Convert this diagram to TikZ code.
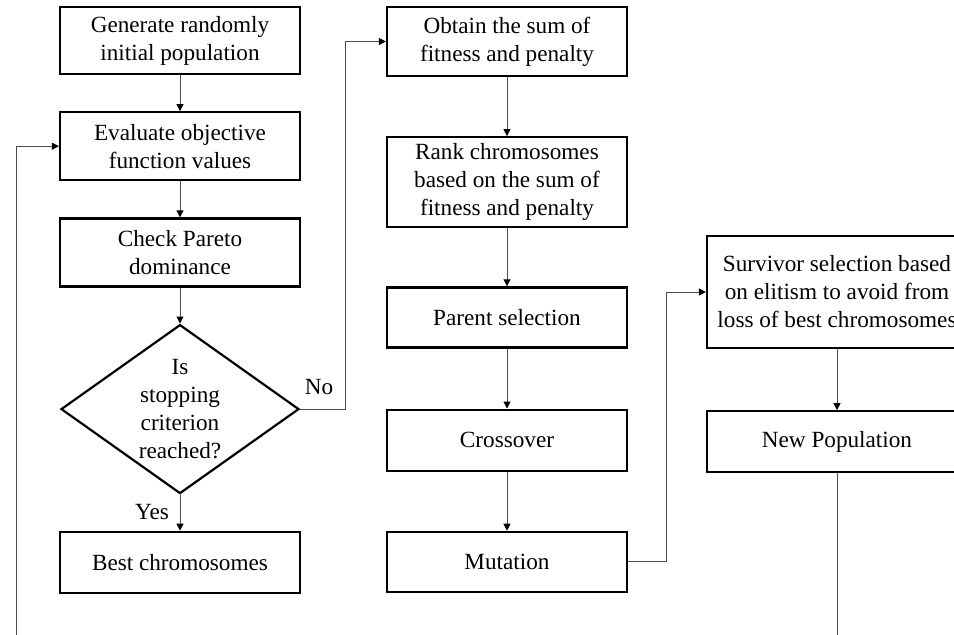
\documentclass[tikz,border=0pt]{standalone}
\usepackage{fontspec}
\setmainfont{Liberation Serif}
\usetikzlibrary{positioning,arrows.meta,shapes.geometric}
\definecolor{edge}{HTML}{4D4D4D}

\begin{document}
\begin{tikzpicture}[x=0.5pt,y=-0.5pt,
  font=\fontsize{11.6}{14}\selectfont,
  box/.style={draw,line width=1.1pt,minimum width=120pt,minimum height=30.5pt,align=center,inner sep=2pt},
  decide/.style={diamond,draw,line width=1.1pt,minimum width=119pt,minimum height=84.5pt,align=center,inner sep=0pt,shape aspect=1.4},
  ar/.style={-{Triangle[length=3.5pt,width=3.5pt,color=black]},line width=0.5pt,color=edge}]
\useasboundingbox (0,0) rectangle (954,634);
\clip (0,0) rectangle (954,634);
% left column
\node[box,minimum height=33.5pt] (gen) at (180,40.5) {Generate randomly\\initial population};
\node[box,minimum height=34pt,below=18pt of gen] (eval) {Evaluate objective\\function values};
\node[box,minimum height=34pt,below=18pt of eval] (pareto) {Check Pareto\\dominance};
\node[decide,below=18pt of pareto] (stop) {Is\\stopping\\criterion\\reached?};
\node[box,below=18pt of stop] (best) {Best chromosomes};
% middle column
\node[box,minimum height=34.5pt] (sum) at (507,41.5) {Obtain the sum of\\fitness and penalty};
\node[box,minimum height=45pt,below=29.5pt of sum] (rank) {Rank chromosomes\\based on the sum of\\fitness and penalty};
\node[box,minimum height=30pt,below=29pt of rank] (parent) {Parent selection};
\node[box,below=30pt of parent] (cross) {Crossover};
\node[box,minimum height=30pt,below=29.5pt of cross] (mut) {Mutation};
% right column
\node[box,minimum width=130pt,minimum height=56pt] (surv) at (837,292) {Survivor selection based\\on elitism to avoid from\\loss of best chromosomes};
\node[box,minimum width=130pt,below=30.5pt of surv] (newpop) {New Population};
% labels
\node (no) at (319,387) {No};
\node (yes) at (152,512) {Yes};
% loop ends run off the bottom
\coordinate (loopL) at (16,660);
\coordinate (loopR) at (837,660);
\foreach \a/\b in {gen/eval,eval/pareto,pareto/stop,stop/best,sum/rank,rank/parent,parent/cross,cross/mut,surv/newpop}
  \draw[ar] (\a) -- (\b);
\draw[ar] (stop.east) -- ++(45,0) |- (sum.west);
\draw[ar] (mut.east) -- ++(38,0) |- (surv.west);
\draw[line width=0.5pt,color=edge] (newpop) -- (loopR);
\draw[ar] (loopL) |- (eval.west);
\end{tikzpicture}
\end{document}
